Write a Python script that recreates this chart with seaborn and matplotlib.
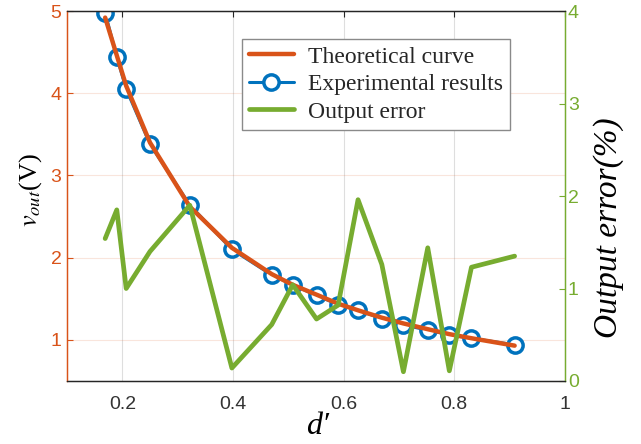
import matplotlib
matplotlib.use("Agg")
import matplotlib.pyplot as plt
import seaborn as sns
import pandas as pd

# ---- data ----
d_prime = [0.169, 0.190, 0.207, 0.250, 0.322, 0.398, 0.470, 0.508, 0.551,
           0.590, 0.626, 0.669, 0.708, 0.752, 0.791, 0.831, 0.909]
v_experimental = [4.98, 4.44, 4.05, 3.38, 2.64, 2.10, 1.79, 1.67, 1.54,
                  1.43, 1.36, 1.26, 1.18, 1.12, 1.06, 1.02, 0.94]
v_theoretical = [4.92, 4.46, 4.09, 3.40, 2.62, 2.12, 1.80, 1.67, 1.55,
                 1.44, 1.36, 1.27, 1.20, 1.13, 1.07, 1.02, 0.93]
output_error = [1.54, 1.85, 1.00, 1.40, 1.90, 0.14, 0.61, 1.04, 0.67,
                0.82, 1.96, 1.26, 0.10, 1.44, 0.11, 1.23, 1.35]

x_ticks = [0.2, 0.4, 0.6, 0.8, 1]
x_ticklabels = ["0.2", "0.4", "0.6", "0.8", "1"]
left_ticks = [1, 2, 3, 4, 5]
right_ticks = [0, 1, 2, 3, 4]

ORANGE = "#D95319"
BLUE = "#0072BD"
GREEN = "#77AC30"
DARK = "#262626"

sns.set_style("white")
plt.rcParams["mathtext.fontset"] = "stix"
plt.rcParams["font.family"] = ["Liberation Sans", "DejaVu Sans"]

df = pd.DataFrame({"d": d_prime, "exp": v_experimental,
                   "theo": v_theoretical, "err": output_error})

fig = plt.figure(figsize=(6.41, 4.44), dpi=100)
fig.subplots_adjust(left=0.1045, right=0.8814, bottom=0.1419, top=0.9752)
ax = fig.add_subplot(111)

sns.lineplot(data=df, x="d", y="exp", ax=ax, color=BLUE, linewidth=2.2,
             marker="o", markersize=11, markerfacecolor="white",
             markeredgecolor=BLUE, markeredgewidth=2.5,
             label="Experimental results", zorder=2)
sns.lineplot(data=df, x="d", y="theo", ax=ax, color=ORANGE, linewidth=3.2,
             label="Theoretical curve", zorder=3)

ax2 = ax.twinx()
sns.lineplot(data=df, x="d", y="err", ax=ax2, color=GREEN, linewidth=3.4,
             label="Output error", zorder=3)

# limits & ticks
ax.set_xlim(0.1, 1.0)
ax.set_ylim(0.5, 5.0)
ax2.set_ylim(0, 4)
ax.set_xticks(x_ticks)
ax.set_xticklabels(x_ticklabels)
ax.set_yticks(left_ticks)
ax2.set_yticks(right_ticks)

# grid
ax.xaxis.grid(True, color="#000000", alpha=0.13, linewidth=0.8)
ax.yaxis.grid(True, color=ORANGE, alpha=0.15, linewidth=0.8)
ax.set_axisbelow(True)

# spines
for a in (ax, ax2):
    a.spines["top"].set_color(DARK)
    a.spines["bottom"].set_color(DARK)
    a.spines["left"].set_color(ORANGE)
    a.spines["right"].set_color(GREEN)
    for s in a.spines.values():
        s.set_linewidth(0.9)

ax.tick_params(axis="x", direction="in", length=4, colors=DARK, labelsize=14,
               top=True, pad=11, labelcolor="#333333")
ax.tick_params(axis="y", direction="in", length=4, color=ORANGE,
               labelcolor=ORANGE, labelsize=14, pad=4)
ax2.tick_params(axis="y", direction="in", length=4, color=GREEN,
                labelcolor=GREEN, labelsize=14, pad=2)

# labels
ax.set_xlabel("d\u2032", fontsize=23, color="black",
              family=["Liberation Serif", "DejaVu Serif"], style="italic")
ax.xaxis.set_label_coords(0.504, -0.124)
ax.xaxis.label.set_va("center")

ax.set_ylabel(r"$v_{out}$(V)", fontsize=19, family="Liberation Serif",
              color="black")
ax.yaxis.set_label_coords(-0.074, 0.515)
ax.yaxis.label.set_va("center")
ax.yaxis.label.set_ha("center")

ax2.set_ylabel("Output error(%)", fontsize=24, family="Liberation Serif",
               style="italic", color="black", rotation=90)
ax2.yaxis.set_label_coords(1.088, 0.415)
ax2.yaxis.label.set_va("center")
ax2.yaxis.label.set_ha("center")

# legend
if ax.get_legend() is not None:
    ax.get_legend().remove()
if ax2.get_legend() is not None:
    ax2.get_legend().remove()
h1, l1 = ax.get_legend_handles_labels()
h2, l2 = ax2.get_legend_handles_labels()
hmap = dict(zip(l1 + l2, h1 + h2))
order = ["Theoretical curve", "Experimental results", "Output error"]
leg = ax2.legend([hmap[k] for k in order], order, loc="upper left",
                 bbox_to_anchor=(0.351, 0.924), borderaxespad=0,
                 frameon=True, fancybox=False, framealpha=1,
                 edgecolor="#8a8a8a",
                 prop={"family": "Liberation Serif", "size": 17},
                 handlelength=1.9, handletextpad=0.6, labelspacing=0.25,
                 borderpad=0.3)
leg.get_frame().set_linewidth(1.0)
leg.set_zorder(10)

fig.savefig("out.png", dpi=100)
